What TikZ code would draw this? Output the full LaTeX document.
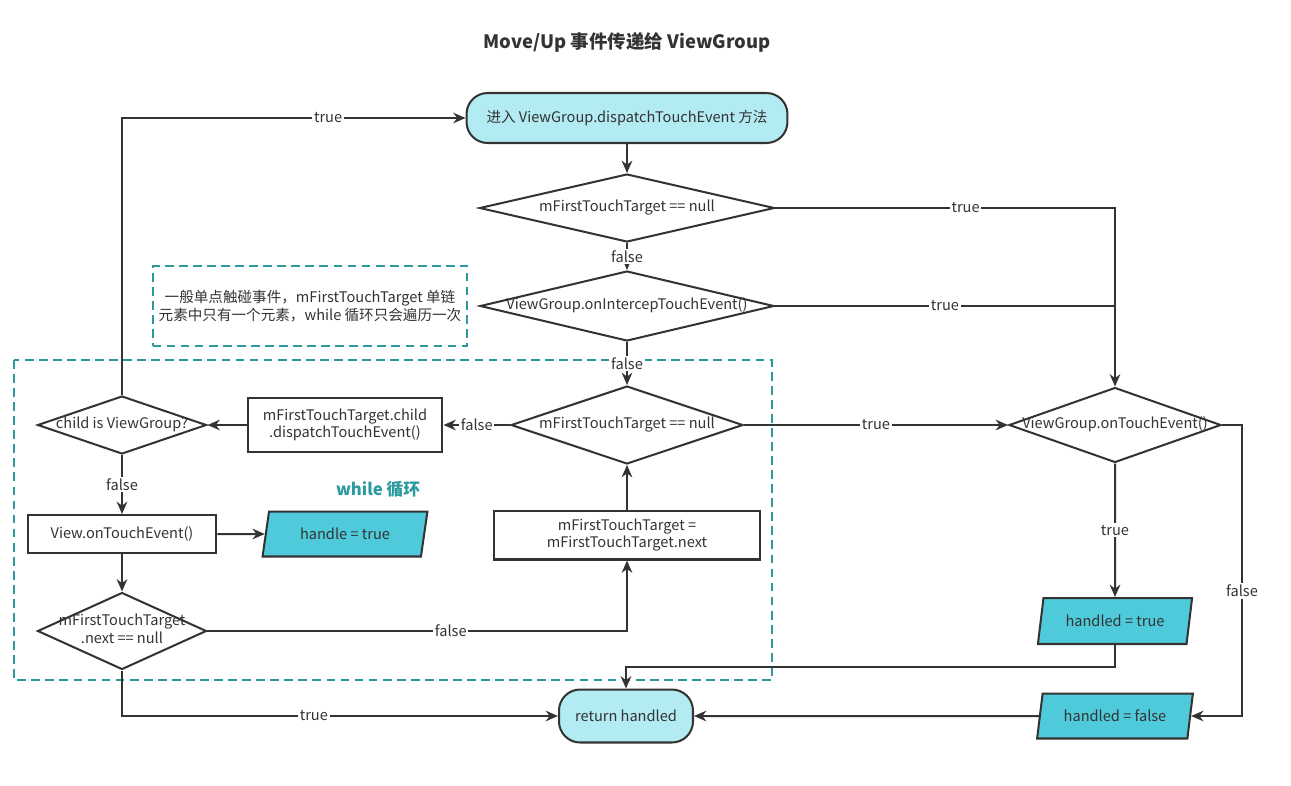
\documentclass[tikz,border=0pt]{standalone}
\usepackage{fontspec}
\setmainfont{Noto Sans CJK SC}
\usepackage{xcolor}
\usetikzlibrary{shapes.geometric,arrows.meta}
\definecolor{lightcyan}{HTML}{B2EBF2}
\definecolor{datacyan}{HTML}{4FCADB}
\definecolor{loopteal}{HTML}{2B9A9E}
\definecolor{ink}{HTML}{333333}
\newcommand{\dtext}[1]{\makebox[0pt]{\begin{tabular}{@{}c@{}}#1\end{tabular}}}

\begin{document}
\begin{tikzpicture}[x=0.02cm, y=-0.02cm, ->, >={Stealth[length=7pt,width=6pt]}, line width=1.15pt, color=ink, font=\fontsize{8.3}{10}\selectfont,
    term node/.style={rectangle, rounded corners=12pt, draw, fill=lightcyan, inner sep=0pt},
    decision node/.style={diamond, draw, aspect=4, inner sep=0pt},
    process node/.style={rectangle, draw, align=center, inner sep=0pt},
    data node/.style={trapezium, trapezium left angle=72, trapezium right angle=108, trapezium stretches=true, draw, fill=datacyan, inner sep=0pt},
    lbl/.style={fill=white, inner sep=1pt},
    loop box/.style={-, draw=loopteal, dash pattern=on 5pt off 3pt}]
    \useasboundingbox (0,0) rectangle (1291,785);

    % while loop frame and note
    \draw[loop box] (14,360) rectangle (772,680);
    \node[loop box, draw, minimum width=6.3cm, minimum height=1.6cm, align=center] (15) at (310,306) {一般单点触碰事件，mFirstTouchTarget 单链\\元素中只有一个元素，while 循环只会遍历一次};
    \node[text=loopteal, font=\fontsize{9.5}{11}\selectfont\bfseries] (16) at (378,489) {while 循环};

    \node[font=\fontsize{10.5}{12}\selectfont\bfseries] (0) at (627,42) {Move/Up 事件传递给 ViewGroup};
    \node[term node, minimum width=6.42cm, minimum height=1cm] (1) at (627,118) {进入 ViewGroup.dispatchTouchEvent 方法};
    \node[decision node, minimum width=5.9cm, minimum height=1.36cm] (2) at (627,208) {\dtext{mFirstTouchTarget == null}};
    \node[decision node, minimum width=5.88cm, minimum height=1.4cm] (3) at (627,306) {\dtext{ViewGroup.onIntercepTouchEvent()}};
    \node[decision node, minimum width=4.64cm, minimum height=1.56cm] (4) at (627,425) {\dtext{mFirstTouchTarget == null}};
    \node[process node, minimum width=3.9cm, minimum height=1.08cm] (5) at (345,425) {mFirstTouchTarget.child\\.dispatchTouchEvent()};
    \node[decision node, minimum width=3.38cm, minimum height=1.16cm] (6) at (122,425) {\dtext{child is ViewGroup?}};
    \node[process node, minimum width=3.78cm, minimum height=0.76cm] (7) at (122,534) {View.onTouchEvent()};
    \node[data node, minimum width=3.3cm, minimum height=0.9cm] (8) at (345,534) {handle = true};
    \node[decision node, minimum width=3.38cm, minimum height=1.54cm] (9) at (122,631) {\dtext{mFirstTouchTarget\\.next == null}};
    \node[process node, minimum width=5.34cm, minimum height=0.98cm] (10) at (627,535) {mFirstTouchTarget =\\mFirstTouchTarget.next};
    \node[term node, minimum width=2.68cm, minimum height=1.06cm] (11) at (626,716) {return handled};
    \node[decision node, minimum width=4.24cm, minimum height=1.5cm] (12) at (1115,425) {\dtext{ViewGroup.onTouchEvent()}};
    \node[data node, minimum width=3.1cm, minimum height=0.92cm] (13) at (1115,621) {handled = true};
    \node[data node, minimum width=3.12cm, minimum height=0.9cm] (14) at (1115,716) {handled = false};

    \path[->]
        (1) edge (2)
        (2) edge node[lbl] {false} (3)
        (3) edge node[lbl] {false} (4)
        (4) edge node[lbl] {true} (12)
        (4) edge node[lbl] {false} (5)
        (5) edge (6)
        (6) edge node[lbl] {false} (7)
        (7) edge (8)
        (7) edge (9)
        (10) edge (4)
        (12) edge node[lbl] {true} (13)
        (14) edge (11);

    \draw (2.east) -| node[lbl, pos=0.28] {true} (12.north);
    \draw[-] (3.east) -- node[lbl] {true} (3.east -| 12.north);
    \draw (6.north) |- node[lbl, pos=0.8] {true} (1.west);
    \draw (9.east) -| node[lbl, pos=0.29] {false} (10.south);
    \draw (9.south) |- node[lbl, pos=0.72] {true} (11.west);
    \draw (13.south) -- ++(0,22) -| (11.north);
    \draw (12.east) -- ++(20,0) |- node[lbl, pos=0.285] {false} (14.east);
\end{tikzpicture}
\end{document}
